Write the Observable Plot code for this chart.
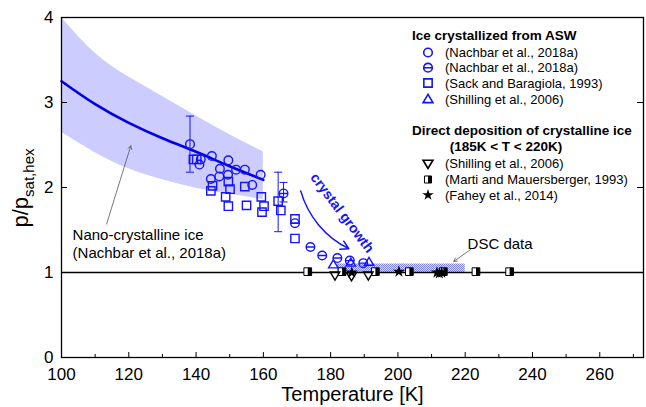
<!DOCTYPE html>
<html><head><meta charset="utf-8">
<script src="https://cdn.jsdelivr.net/npm/d3@7"></script>
<script src="https://cdn.jsdelivr.net/npm/@observablehq/plot@0.6"></script>
<style>body{margin:0;background:#fff;font-family:"Liberation Sans",Arial,sans-serif}</style>
</head><body><div id="chart"></div>
<script>
// ---------- data ----------
const bandT     = [100, 110, 120, 130, 140, 150, 160];
const bandLower = [2.65, 2.41, 2.22, 2.09, 1.99, 1.92, 1.86];
const bandUpper = [4.00, 3.58, 3.30, 3.07, 2.84, 2.62, 2.42];
const fitP      = [3.25, 2.98, 2.76, 2.58, 2.42, 2.25, 2.09];

const nachbarOpenT = [138.2, 141.4, 141.0, 144.7, 149.6, 147.1, 151.9, 154.5, 149.5, 159.2, 146.9, 144.4, 156.7];
const nachbarOpenP = [2.51, 2.33, 2.27, 2.37, 2.32, 2.22, 2.21, 2.21, 2.15, 2.15, 2.13, 2.10, 2.03];

const nachbarHalfT = [166.0, 169.4, 174.0, 177.5, 182.0, 185.7, 189.7];
const nachbarHalfP = [1.93, 1.58, 1.30, 1.20, 1.17, 1.14, 1.11];

const sackT = [139.2, 140.2, 144.9, 144.4, 149.6, 150.1, 148.8, 149.6, 154.5, 155.0, 159.4, 160.2, 159.6, 164.4, 165.2, 169.4, 169.4];
const sackP = [2.33, 2.33, 2.02, 1.96, 2.07, 1.98, 1.89, 1.78, 2.01, 1.79, 1.89, 1.78, 1.71, 1.84, 1.73, 1.63, 1.40];

const shillingAswT = [180.8, 186.0, 191.4];
const shillingAswP = [1.09, 1.11, 1.12];

const shillingDirT = [181.3, 186.2, 191.2];
const shillingDirP = [0.97, 0.96, 0.97];

const martiT = [173.2, 183.4, 193.3, 203.4, 213.5, 223.2, 233.2];
const martiP = [1.01, 1.01, 1.01, 1.01, 1.01, 1.01, 1.01];

const faheyT = [186.3, 200.3, 211.6, 212.3, 213.0];
const faheyP = [1.00, 1.01, 1.00, 0.99, 1.00];

const errT  = [138.2, 164.4, 166.0];
const errLo = [2.18, 1.48, 1.83];
const errHi = [2.84, 2.18, 2.06];

const dscT = [182, 220];
const dscP = [1.0, 1.1];

const growthT = [171.1, 185.4];
const growthP = [1.96, 1.28];

const xTicks = [100, 120, 140, 160, 180, 200, 220, 240, 260];
const xMinor = [110, 130, 150, 170, 190, 210, 230, 250, 270];
const yTicks = [0, 1, 2, 3, 4];

const annotations = [
  {text: "Nano-crystalline ice\n(Nachbar et al., 2018a)", T: 103.3, p: 1.347},
  {text: "DSC data", T: 220.7, p: 1.33},
  {text: "crystal growth", T: 183.4, p: 1.70}
];
const pointers = [
  {T1: 113.4, p1: 1.57, T2: 120.6, p2: 2.49},
  {T1: 221.6, p1: 1.27, T2: 216.6, p2: 1.13}
];

// ---------- build tables ----------
const zip = (xs, ys) => xs.map((x, i) => ({x, y: ys[i]}));
const band = bandT.map((t, i) => ({x: t, lo: bandLower[i], hi: bandUpper[i], fit: fitP[i]}));
const errs = errT.map((t, i) => ({x: t, lo: errLo[i], hi: errHi[i]}));

// ---------- custom symbols ----------
const rad = s => Math.sqrt(s / Math.PI);
const thetaCircle = {draw(c, s) { const r = rad(s); c.moveTo(r, 0); c.arc(0, 0, r, 0, 2 * Math.PI); c.moveTo(-r, 0); c.lineTo(r, 0); }};
const triDown = {draw(c, s) { const r = rad(s); c.moveTo(0, r); c.lineTo(-r * 0.95, -r * 0.6); c.lineTo(r * 0.95, -r * 0.6); c.closePath(); }};
const triUp = {draw(c, s) { const r = rad(s); c.moveTo(0, -r); c.lineTo(-r * 0.95, r * 0.6); c.lineTo(r * 0.95, r * 0.6); c.closePath(); }};
const sq = {draw(c, s) { const h = rad(s) * 0.8; c.rect(-h, -h, 2 * h, 2 * h); }};
const halfSq = {draw(c, s) { const h = rad(s) * 0.8; c.rect(0, -h, h, 2 * h); }};
const hline = {draw(c, s) { const r = rad(s); c.moveTo(-r, 0); c.lineTo(r, 0); }};

const BLUE = "#1414ff";
const FONT = "Liberation Sans, Arial, sans-serif";
const W = 646, H = 407, mL = 61, mR = 3, mT = 17, mB = 50;
const innerW = W - mL - mR, innerH = H - mT - mB;

const svg = Plot.plot({
  width: W, height: H,
  marginLeft: mL, marginRight: mR, marginTop: mT, marginBottom: mB,
  style: {fontFamily: FONT, background: "white", overflow: "visible"},
  x: {domain: [100, 273]},
  y: {domain: [0, 4]},
  marks: [
    Plot.areaY(band, {x: "x", y1: "lo", y2: "hi", fill: "#ccccff", curve: "natural"}),
    Plot.rect([0], {x1: () => dscT[0], x2: () => dscT[1], y1: () => dscP[0], y2: () => dscP[1], fill: "url(#dscPat)"}),
    Plot.ruleY([1], {stroke: "black", strokeWidth: 1.6}),
    Plot.line(band, {x: "x", y: "fit", stroke: "#0000e6", strokeWidth: 2.6, curve: "natural"}),
    // error bars
    Plot.ruleX(errs, {x: "x", y1: "lo", y2: "hi", stroke: BLUE, strokeWidth: 1}),
    Plot.dot(errs, {x: "x", y: "lo", symbol: hline, r: 4, stroke: BLUE, strokeWidth: 1}),
    Plot.dot(errs, {x: "x", y: "hi", symbol: hline, r: 4, stroke: BLUE, strokeWidth: 1}),
    // series
    Plot.dot(zip(sackT, sackP), {x: "x", y: "y", symbol: sq, r: 5.2, stroke: BLUE, strokeWidth: 1.4, fill: "none"}),
    Plot.dot(zip(nachbarOpenT, nachbarOpenP), {x: "x", y: "y", symbol: "circle", r: 4.3, stroke: BLUE, strokeWidth: 1.4, fill: "none"}),
    Plot.dot(zip(nachbarHalfT, nachbarHalfP), {x: "x", y: "y", symbol: thetaCircle, r: 4.3, stroke: BLUE, strokeWidth: 1.4, fill: "none"}),
    Plot.dot(zip(shillingAswT, shillingAswP), {x: "x", y: "y", symbol: triUp, r: 5, stroke: BLUE, strokeWidth: 1.4, fill: "none"}),
    Plot.dot(zip(martiT, martiP), {x: "x", y: "y", symbol: sq, r: 4.8, stroke: "black", strokeWidth: 1, fill: "white"}),
    Plot.dot(zip(martiT, martiP), {x: "x", y: "y", symbol: halfSq, r: 4.8, fill: "black", stroke: "none"}),
    Plot.dot(zip(shillingDirT, shillingDirP), {x: "x", y: "y", symbol: triDown, r: 5, stroke: "black", strokeWidth: 1.4, fill: "none"}),
    Plot.dot(zip(faheyT, faheyP), {x: "x", y: "y", symbol: "star", r: 3.8, fill: "black", stroke: "none"}),
    // arrows
    Plot.arrow([0], {x1: () => growthT[0], y1: () => growthP[0], x2: () => growthT[1], y2: () => growthP[1], bend: -24, stroke: BLUE, strokeWidth: 1.5, headLength: 9}),
    Plot.arrow(pointers, {x1: "T1", y1: "p1", x2: "T2", y2: "p2", stroke: "#555", strokeWidth: 0.8, headLength: 7}),
    // annotations
    Plot.text([annotations[0]], {x: "T", y: "p", text: "text", textAnchor: "start", lineAnchor: "middle", fontSize: 15, lineHeight: 1.22, fill: "black"}),
    Plot.text([annotations[1]], {x: "T", y: "p", text: "text", textAnchor: "start", lineAnchor: "middle", fontSize: 15, fill: "black"}),
    Plot.text([annotations[2]], {x: "T", y: "p", text: "text", textAnchor: "middle", lineAnchor: "middle", fontSize: 14, fontWeight: "bold", rotate: 53, fill: BLUE}),
    // ticks (inward)
    Plot.tickX(xTicks, {x: d => d, insetTop: innerH - 5, stroke: "black", strokeWidth: 1}),
    Plot.tickX(xMinor, {x: d => d, insetTop: innerH - 3, stroke: "black", strokeWidth: 1}),
    Plot.tickY(yTicks, {y: d => d, insetRight: innerW - 6, stroke: "black", strokeWidth: 1}),
    Plot.tickY(yTicks, {y: d => d, insetLeft: innerW - 6, stroke: "black", strokeWidth: 1}),
    Plot.axisX({ticks: xTicks, tickSize: 0, tickPadding: 10, fontSize: 17, label: null, tickFormat: d3.format("d")}),
    Plot.axisY({ticks: yTicks, tickSize: 0, tickPadding: 8, fontSize: 17, label: null, tickFormat: d3.format("d")}),
    Plot.text(["Temperature [K]"], {frameAnchor: "bottom", dy: 37, fontSize: 20, lineAnchor: "middle", fill: "black"}),
    Plot.frame({stroke: "black", strokeWidth: 1.3})
  ]
});
document.getElementById("chart").appendChild(svg);

const s = d3.select(svg);
// checkered pattern for DSC band
const defs = s.insert("defs", ":first-child");
const pat = defs.append("pattern").attr("id", "dscPat").attr("patternUnits", "userSpaceOnUse").attr("width", 2).attr("height", 2);
pat.append("rect").attr("width", 2).attr("height", 2).attr("fill", "#dfe0ff");
pat.append("rect").attr("width", 1).attr("height", 1).attr("fill", "#7c80f0");
pat.append("rect").attr("x", 1).attr("y", 1).attr("width", 1).attr("height", 1).attr("fill", "#7c80f0");

// y-axis title with subscript
const yt = s.append("text").attr("transform", "translate(28,188) rotate(-90)")
  .attr("text-anchor", "middle").attr("font-family", FONT).attr("font-size", 22).attr("fill", "black");
yt.append("tspan").text("p/p");
yt.append("tspan").attr("dy", 6).attr("font-size", 15).text("sat,hex");

// legend
const lg = s.append("g").attr("font-family", FONT).attr("fill", "black").attr("text-anchor", "start");
const symPath = (type, r) => d3.symbol(type, Math.PI * r * r)();
const head = (txt, x, y, anchor) => lg.append("text").attr("x", x).attr("y", y).attr("dy", "0.35em")
  .attr("text-anchor", anchor || "start").attr("font-size", 13.5).attr("font-weight", "bold").text(txt);
const entry = (y, draw, txt) => {
  const g = lg.append("g").attr("transform", `translate(428,${y})`);
  draw(g);
  lg.append("text").attr("x", 445).attr("y", y).attr("dy", "0.35em").attr("text-anchor", "start").attr("font-size", 13).text(txt);
};
head("Ice crystallized from ASW", 412, 35);
entry(52.5, g => g.append("path").attr("d", symPath(d3.symbolCircle, 4.3)).attr("fill", "none").attr("stroke", BLUE).attr("stroke-width", 1.6), "(Nachbar et al., 2018a)");
entry(67.7, g => g.append("path").attr("d", symPath(thetaCircle, 4.3)).attr("fill", "none").attr("stroke", BLUE).attr("stroke-width", 1.6), "(Nachbar et al., 2018a)");
entry(83, g => g.append("path").attr("d", symPath(sq, 5.2)).attr("fill", "none").attr("stroke", BLUE).attr("stroke-width", 1.6), "(Sack and Baragiola, 1993)");
entry(99.5, g => g.append("path").attr("d", symPath(triUp, 5.2)).attr("fill", "none").attr("stroke", BLUE).attr("stroke-width", 1.6), "(Shilling et al., 2006)");
head("Direct deposition of crystalline ice", 412, 130);
head("(185K < T < 220K)", 506, 146, "middle");
entry(163.3, g => g.append("path").attr("d", symPath(triDown, 5.2)).attr("fill", "none").attr("stroke", "black").attr("stroke-width", 1.6), "(Shilling et al., 2006)");
entry(179.5, g => {
  g.append("path").attr("d", symPath(sq, 4.4)).attr("fill", "white").attr("stroke", "black").attr("stroke-width", 1);
  g.append("path").attr("d", symPath(halfSq, 4.4)).attr("fill", "black");
}, "(Marti and Mauersberger, 1993)");
entry(195, g => g.append("path").attr("d", symPath(d3.symbolStar, 3.6)).attr("fill", "black"), "(Fahey et al., 2014)");
</script>
</body></html>
